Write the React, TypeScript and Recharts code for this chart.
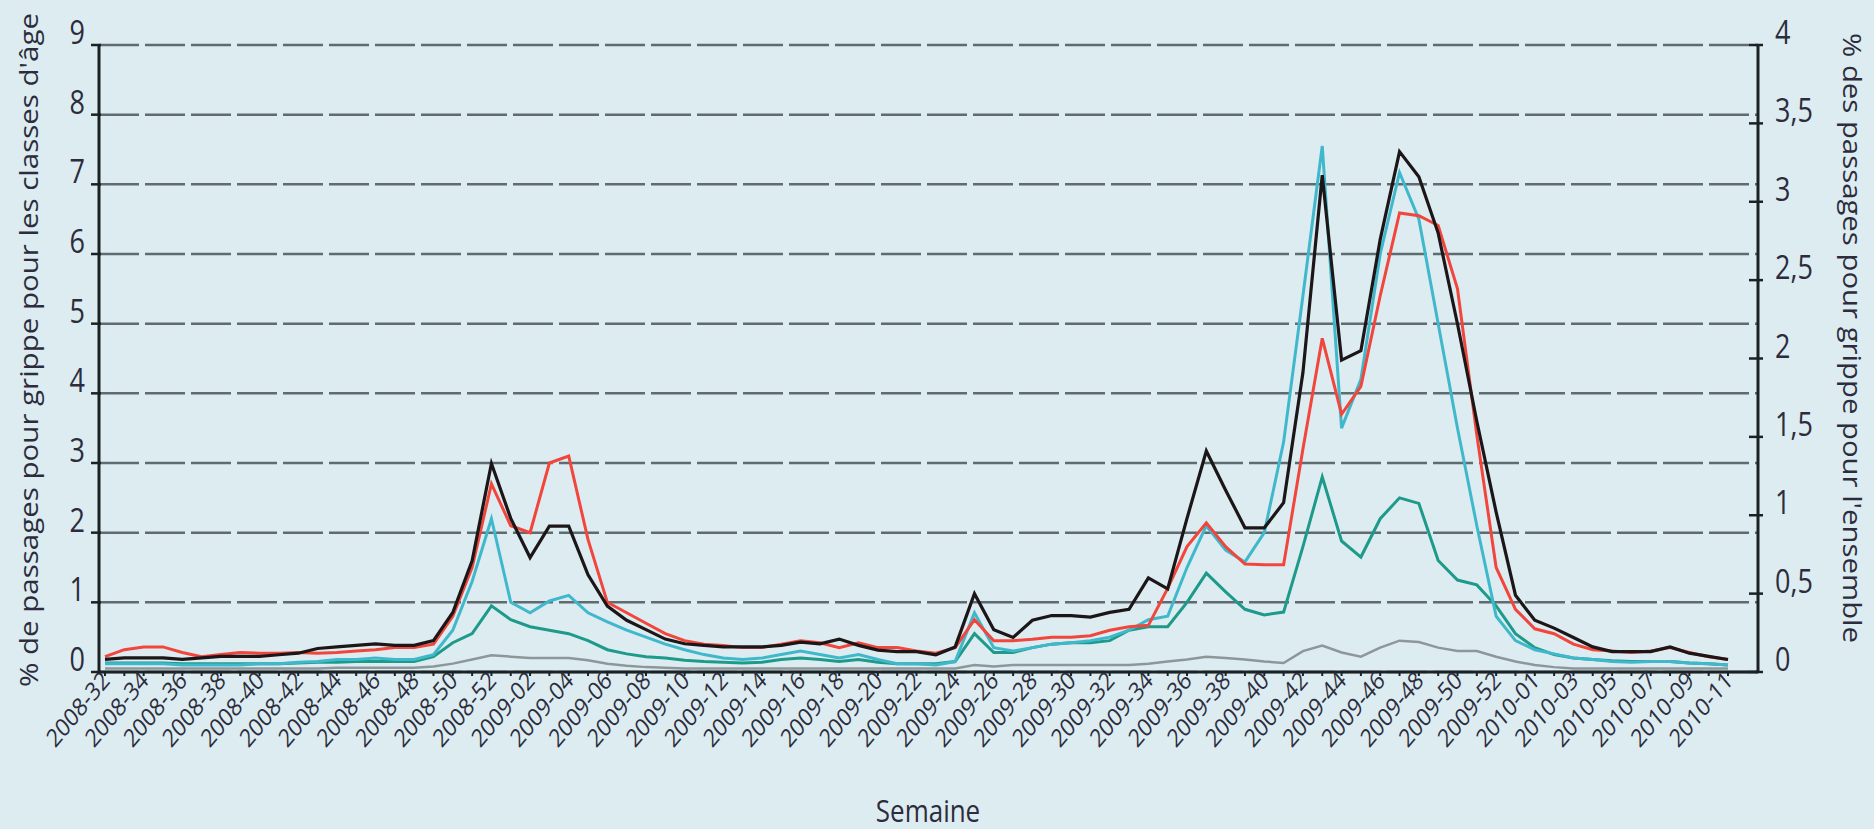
import React from 'react'
import { LineChart, Line, XAxis, YAxis, CartesianGrid, Label } from 'recharts'

const W = 1874
const H = 829
const BG = '#dcecf1'
const INK = '#1a2226'
const TEXT = '#2c2c3c'
const FONT = "'Open Sans', 'Liberation Sans', sans-serif"

// weekly categories, 2008-32 .. 2010-11
const pad = (n: number) => (n < 10 ? '0' + n : '' + n)
const weeksOf = (year: number, from: number, to: number) => {
  const out: string[] = []
  for (let w = from; w <= to; w++) out.push(year + '-' + pad(w))
  return out
}
const weeks = [...weeksOf(2008, 32, 52), ...weeksOf(2009, 1, 53), ...weeksOf(2010, 1, 11)]

const leftTicks = [0, 1, 2, 3, 4, 5, 6, 7, 8, 9]
const rightTicks = [0, 0.5, 1, 1.5, 2, 2.5, 3, 3.5, 4]

// % des passages pour grippe pour l'ensemble (axe droit)
const ensemble = [
  0.08, 0.09, 0.09, 0.09, 0.08, 0.09, 0.10, 0.10, 0.10, 0.11,
  0.12, 0.15, 0.16, 0.17, 0.18, 0.17, 0.17, 0.20, 0.38, 0.71,
  1.33, 0.98, 0.73, 0.93, 0.93, 0.62, 0.42, 0.33, 0.27, 0.21,
  0.18, 0.17, 0.16, 0.16, 0.16, 0.17, 0.19, 0.18, 0.21, 0.17,
  0.14, 0.13, 0.13, 0.11, 0.16, 0.50, 0.27, 0.22, 0.33, 0.36,
  0.36, 0.35, 0.38, 0.40, 0.60, 0.53, 0.98, 1.41, 1.16, 0.92,
  0.92, 1.08, 1.91, 3.17, 1.99, 2.05, 2.76, 3.32, 3.16, 2.80,
  2.22, 1.60, 1.02, 0.49, 0.33, 0.28, 0.22, 0.16, 0.13, 0.13,
  0.13, 0.16, 0.12, 0.10, 0.08,
]

// classes d'âge (axe gauche)
const age0004 = [
  0.22, 0.32, 0.36, 0.36, 0.28, 0.22, 0.25, 0.28, 0.27, 0.27,
  0.28, 0.27, 0.28, 0.30, 0.32, 0.35, 0.35, 0.40, 0.80, 1.50,
  2.70, 2.10, 2.00, 3.00, 3.10, 1.90, 1.00, 0.85, 0.70, 0.55,
  0.45, 0.40, 0.38, 0.35, 0.35, 0.40, 0.45, 0.42, 0.35, 0.42,
  0.35, 0.35, 0.30, 0.27, 0.35, 0.75, 0.45, 0.45, 0.47, 0.50,
  0.50, 0.52, 0.60, 0.65, 0.67, 1.20, 1.80, 2.14, 1.80, 1.55,
  1.54, 1.54, 3.20, 4.79, 3.70, 4.10, 5.40, 6.59, 6.55, 6.41,
  5.50, 3.40, 1.50, 0.90, 0.62, 0.55, 0.40, 0.32, 0.30, 0.28,
  0.30, 0.35, 0.28, 0.22, 0.18,
]
const age0514 = [
  0.12, 0.12, 0.12, 0.12, 0.10, 0.10, 0.10, 0.10, 0.12, 0.12,
  0.14, 0.15, 0.18, 0.18, 0.20, 0.18, 0.18, 0.25, 0.60, 1.30,
  2.20, 1.00, 0.85, 1.02, 1.10, 0.85, 0.72, 0.60, 0.50, 0.40,
  0.32, 0.25, 0.20, 0.18, 0.20, 0.25, 0.30, 0.25, 0.20, 0.25,
  0.18, 0.12, 0.12, 0.10, 0.15, 0.85, 0.35, 0.30, 0.35, 0.40,
  0.42, 0.45, 0.50, 0.60, 0.75, 0.80, 1.50, 2.10, 1.75, 1.58,
  2.00, 3.30, 5.40, 7.55, 3.50, 4.20, 6.00, 7.17, 6.50, 5.00,
  3.50, 2.10, 0.80, 0.45, 0.32, 0.26, 0.20, 0.18, 0.15, 0.14,
  0.15, 0.15, 0.13, 0.12, 0.10,
]
const age1564 = [
  0.13, 0.13, 0.13, 0.13, 0.12, 0.12, 0.12, 0.12, 0.12, 0.12,
  0.13, 0.14, 0.14, 0.15, 0.15, 0.15, 0.15, 0.22, 0.42, 0.55,
  0.95, 0.75, 0.65, 0.60, 0.55, 0.45, 0.32, 0.26, 0.22, 0.20,
  0.17, 0.15, 0.14, 0.13, 0.14, 0.18, 0.20, 0.18, 0.15, 0.18,
  0.14, 0.12, 0.12, 0.12, 0.15, 0.55, 0.28, 0.28, 0.35, 0.40,
  0.42, 0.42, 0.45, 0.60, 0.65, 0.65, 1.00, 1.42, 1.15, 0.90,
  0.82, 0.86, 1.80, 2.80, 1.88, 1.65, 2.20, 2.50, 2.42, 1.60,
  1.32, 1.25, 0.95, 0.55, 0.35, 0.25, 0.20, 0.18, 0.16, 0.15,
  0.15, 0.15, 0.13, 0.12, 0.10,
]
const age65 = [
  0.05, 0.05, 0.05, 0.05, 0.05, 0.05, 0.05, 0.05, 0.05, 0.05,
  0.05, 0.05, 0.06, 0.06, 0.06, 0.06, 0.06, 0.08, 0.12, 0.18,
  0.24, 0.22, 0.20, 0.20, 0.20, 0.17, 0.12, 0.09, 0.07, 0.06,
  0.05, 0.05, 0.05, 0.05, 0.05, 0.05, 0.05, 0.05, 0.05, 0.05,
  0.05, 0.05, 0.05, 0.05, 0.05, 0.10, 0.08, 0.10, 0.10, 0.10,
  0.10, 0.10, 0.10, 0.10, 0.12, 0.15, 0.18, 0.22, 0.20, 0.18,
  0.15, 0.13, 0.30, 0.38, 0.28, 0.22, 0.35, 0.45, 0.43, 0.35,
  0.30, 0.30, 0.22, 0.15, 0.10, 0.07, 0.05, 0.05, 0.05, 0.05,
  0.05, 0.05, 0.05, 0.05, 0.05,
]

const data = weeks.map((week, i) => ({
  week,
  ensemble: ensemble[i],
  age0004: age0004[i],
  age0514: age0514[i],
  age1564: age1564[i],
  age65: age65[i],
}))

const comma = (v: number) => String(v).replace('.', ',')

// the source picture is stretched vertically, so labels get scale(1, 1.2)
const LeftTick = ({ x, y, payload }: any) => (
  <g>
    <line x1={x - 8} x2={x + 2} y1={y} y2={y} stroke={INK} strokeWidth={2.5} />
    <text transform={`translate(${x - 14} ${y - 1}) scale(1 1.2)`} textAnchor="end" fontSize={27} fill={TEXT} fontFamily={FONT}>
      {payload.value}
    </text>
  </g>
)

const RightTick = ({ x, y, payload }: any) => (
  <g>
    <line x1={x - 9} x2={x + 5} y1={y} y2={y} stroke={INK} strokeWidth={2.5} />
    <text transform={`translate(${x + 17} ${y - 1}) scale(1 1.2)`} textAnchor="start" fontSize={27} fill={TEXT} fontFamily={FONT}>
      {comma(payload.value)}
    </text>
  </g>
)

const WeekTick = ({ x, y, payload }: any) => {
  const i = weeks.indexOf(payload.value)
  if (i % 2 !== 0) return <g />
  return (
    <text transform={`translate(${x + 6} ${y}) scale(1 1.2) rotate(-45)`} textAnchor="end" fontSize={21} fill={TEXT} fontFamily={FONT}>
      {payload.value}
    </text>
  )
}

export default function App() {
  return (
    <div style={{ position: 'absolute', left: 0, top: 0, width: W, height: H, background: BG }}>
      <LineChart width={W} height={H} data={data} margin={{ top: 45, right: 0, bottom: 0, left: 0 }}>
        <CartesianGrid vertical={false} stroke="#5e6b70" strokeWidth={2.5} strokeDasharray="40 6" />
        <XAxis
          dataKey="week"
          interval={0}
          height={157}
          padding={{ left: 6, right: 30 }}
          tick={<WeekTick />}
          tickSize={4}
          tickMargin={6}
          tickLine={{ stroke: INK, strokeWidth: 2 }}
          axisLine={{ stroke: INK, strokeWidth: 3 }}
        >
          <Label
            content={() => (
              <text transform="translate(928 822) scale(1 1.2)" textAnchor="middle" fontSize={26} fill={TEXT} fontFamily={FONT}>
                Semaine
              </text>
            )}
          />
        </XAxis>
        <YAxis
          domain={[0, 9]}
          ticks={leftTicks}
          width={99}
          tickSize={0}
          tickMargin={0}
          tickLine={false}
          tick={<LeftTick />}
          axisLine={{ stroke: INK, strokeWidth: 3 }}
        >
          <Label
            content={() => (
              <text x={28} y={350} transform="rotate(-90 28 350)" textAnchor="middle" dominantBaseline="central" fontSize={26} fill={TEXT} fontFamily={FONT} textLength={674} lengthAdjust="spacingAndGlyphs">
                % de passages pour grippe pour les classes d'âge
              </text>
            )}
          />
        </YAxis>
        <YAxis
          yAxisId="right"
          orientation="right"
          domain={[0, 4]}
          ticks={rightTicks}
          width={116}
          tickSize={0}
          tickMargin={0}
          tickLine={false}
          tick={<RightTick />}
          axisLine={{ stroke: INK, strokeWidth: 3 }}
        >
          <Label
            content={() => (
              <text x={1853} y={338} transform="rotate(90 1853 338)" textAnchor="middle" dominantBaseline="central" fontSize={26} fill={TEXT} fontFamily={FONT} textLength={610} lengthAdjust="spacingAndGlyphs">
                % des passages pour grippe pour l'ensemble
              </text>
            )}
          />
        </YAxis>
        <Line dataKey="age65" stroke="#8d979a" strokeWidth={2.5} dot={false} isAnimationActive={false} />
        <Line dataKey="age1564" stroke="#1e9a8a" strokeWidth={3} dot={false} isAnimationActive={false} />
        <Line dataKey="age0514" stroke="#40b8cc" strokeWidth={3} dot={false} isAnimationActive={false} />
        <Line dataKey="age0004" stroke="#f2463c" strokeWidth={3} dot={false} isAnimationActive={false} />
        <Line yAxisId="right" dataKey="ensemble" stroke="#1c1618" strokeWidth={3.2} dot={false} isAnimationActive={false} />
      </LineChart>
    </div>
  )
}
